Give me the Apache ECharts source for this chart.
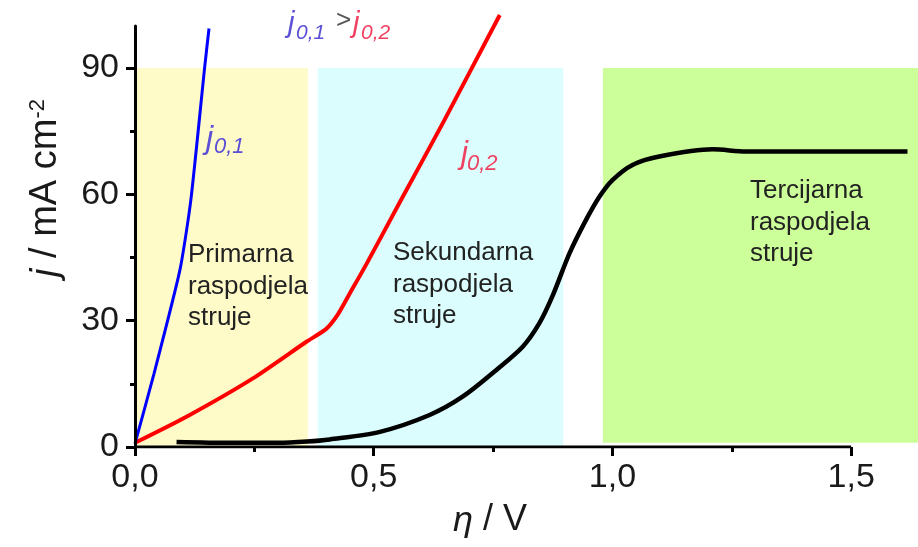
<!DOCTYPE html>
<html>
<head>
<meta charset="utf-8">
<script src="https://cdn.jsdelivr.net/npm/echarts@6/dist/echarts.min.js"></script>
<style>
html, body { margin: 0; padding: 0; background: #fff; }
#chart { width: 918px; height: 547px; }
</style>
</head>
<body>
<div id="chart"></div>
<script>
// krivulje j(eta): [eta / V, j / mA cm-2]
const curveJ01 = [[0, 0.8], [0.04, 17.5], [0.094, 42], [0.117, 58.7], [0.146, 90.3], [0.155, 99.4]];
const curveJ02 = [[0, 1], [0.108, 7.2], [0.247, 16.3], [0.359, 25], [0.40, 28], [0.425, 31.5], [0.45, 36.5], [0.485, 43.5], [0.554, 58], [0.645, 77], [0.764, 102.6]];
const curveLimited = [[0.087, 1.2], [0.2, 1.0], [0.3, 1.0], [0.36, 1.3], [0.408, 1.8], [0.513, 3.6], [0.617, 7.6], [0.687, 12], [0.757, 18.3], [0.812, 23.8], [0.847, 29.4], [0.875, 36], [0.91, 46], [0.945, 54], [0.973, 59.5], [1.0, 63.4], [1.042, 67], [1.098, 69], [1.21, 70.7], [1.28, 70.2], [1.618, 70.2]];

// podrucja raspodjele struje
const regionX = [[0, 0.362], [0.383, 0.897], [0.980, 1.64]];
const regionY = [[0, 90], [0, 90], [1, 90]];
const regionNames = ['Primarna\nraspodjela\nstruje', 'Sekundarna\nraspodjela\nstruje', 'Tercijarna\nraspodjela\nstruje'];
const regionColors = ['#fffbc8', '#dbfdfd', '#ccff99'];

// osi
const xRange = [0, 1.64];
const xAxisSpan = [0, 1.5];
const xTicks = [0, 0.5, 1.0, 1.5];
const xMinorTicks = [0.25, 0.75, 1.25];
const yRange = [0, 100];
const yTicks = [0, 30, 60, 90];
const yMinorTicks = [15, 45, 75];

const FONT = '"Liberation Sans", Arial, sans-serif';
const axisColor = '#000';

function run() {
    const chart = echarts.init(document.getElementById('chart'));

    const areaData = regionX.map((r, i) => [
        { xAxis: r[0], yAxis: regionY[i][0], itemStyle: { color: regionColors[i] } },
        { xAxis: r[1], yAxis: regionY[i][1] }
    ]);

    // tekst: x, y (bazna linija), font
    function txt(text, x, base, size, color, italic, align) {
        return {
            type: 'text',
            x: x,
            y: base - 0.3465 * size,
            z: 50,
            style: {
                text: text,
                fill: color,
                font: (italic ? 'italic ' : '') + size + 'px ' + FONT,
                align: align || 'left',
                verticalAlign: 'middle'
            }
        };
    }

    const regionLabelPos = [[188, 239.5], [393, 237.5], [750, 175.5]];

    const option = {
        animation: false,
        grid: { left: 135, right: 0, top: 26, bottom: 100 },
        xAxis: [
            {
                type: 'value', min: xRange[0], max: xRange[1], interval: 0.5, position: 'bottom',
                axisLine: { show: false },
                splitLine: { show: false },
                axisTick: { customValues: xTicks, length: 9, lineStyle: { color: axisColor, width: 3 } },
                axisLabel: {
                    customValues: xTicks,
                    formatter: v => v.toFixed(1).replace('.', ','),
                    fontSize: 34, fontFamily: FONT, color: '#1a1a1a', margin: 14
                }
            },
            {
                type: 'value', min: xRange[0], max: xRange[1], position: 'bottom',
                axisLine: { show: false },
                splitLine: { show: false },
                axisTick: { customValues: xMinorTicks, length: 5, lineStyle: { color: axisColor, width: 3 } },
                axisLabel: { show: false }
            }
        ],
        yAxis: [
            {
                type: 'value', min: yRange[0], max: yRange[1], interval: 30, z: 10,
                axisLine: { show: true, lineStyle: { color: axisColor, width: 3 } },
                splitLine: { show: false },
                axisTick: { customValues: yTicks, length: 9, lineStyle: { color: axisColor, width: 3 } },
                axisLabel: { customValues: yTicks, fontSize: 34, fontFamily: FONT, color: '#1a1a1a', margin: 16 }
            },
            {
                type: 'value', min: yRange[0], max: yRange[1], position: 'left', z: 10,
                axisLine: { show: false },
                splitLine: { show: false },
                axisTick: { customValues: yMinorTicks, length: 5, lineStyle: { color: axisColor, width: 3 } },
                axisLabel: { show: false }
            }
        ],
        series: [
            {
                // os x od 0 do 1,5 + podrucja
                type: 'line', data: xAxisSpan.map(v => [v, 0]), symbol: 'none', z: 5,
                lineStyle: { color: axisColor, width: 3 },
                markArea: { silent: true, data: areaData }
            },
            {
                type: 'line', data: curveLimited, smooth: 0.3, symbol: 'none', z: 6,
                lineStyle: { color: '#000', width: 4.5 }
            },
            {
                type: 'line', data: curveJ02, smooth: 0.2, symbol: 'none', clip: false, z: 7,
                lineStyle: { color: '#ff0000', width: 4 }
            },
            {
                type: 'line', data: curveJ01, smooth: 0.2, symbol: 'none', clip: false, z: 8,
                lineStyle: { color: '#0000ff', width: 3 }
            }
        ],
        graphic: [
            ...regionNames.map((t, i) => ({
                type: 'text', x: regionLabelPos[i][0], y: regionLabelPos[i][1], z: 50,
                style: { text: t, fill: '#222', font: '26px ' + FONT, lineHeight: 31.5, verticalAlign: 'top' }
            })),
            // j0,1 > j0,2
            txt('j', 288, 34, 29, '#5b4fd6', true),
            txt('0,1', 296, 40, 21, '#5b4fd6', true),
            txt('>', 336, 30, 26, '#555', false),
            txt('j', 353, 34, 29, '#f04060', true),
            txt('0,2', 361, 40, 21, '#f04060', true),
            // j0,1 uz plavu krivulju
            txt('j', 206, 150, 32, '#5b4fd6', true),
            txt('0,1', 214, 154.5, 22, '#5b4fd6', true),
            // j0,2 uz crvenu krivulju
            txt('j', 461, 165.5, 31, '#f04060', true),
            txt('0,2', 467, 171.5, 22, '#f04060', true),
            // naslov osi x
            {
                type: 'text', x: 490, y: 533 - 0.3465 * 36, z: 50,
                style: {
                    text: '{i|η}{n| / V}',
                    align: 'center', verticalAlign: 'middle',
                    rich: {
                        i: { fontSize: 36, fontStyle: 'italic', fontFamily: FONT, fill: '#1a1a1a' },
                        n: { fontSize: 36, fontFamily: FONT, fill: '#1a1a1a' }
                    }
                }
            },
            // naslov osi y
            {
                type: 'text', x: 46, y: 188, rotation: Math.PI / 2, z: 50,
                style: {
                    text: '{i|j}{n| / mA cm}{s|-2}',
                    align: 'center', verticalAlign: 'middle',
                    rich: {
                        i: { fontSize: 38, lineHeight: 38, fontStyle: 'italic', fontFamily: FONT, fill: '#1a1a1a' },
                        n: { fontSize: 38, lineHeight: 38, fontFamily: FONT, fill: '#1a1a1a' },
                        s: { fontSize: 22, lineHeight: 22, verticalAlign: 'top', fontFamily: FONT, fill: '#1a1a1a' }
                    }
                }
            }
        ]
    };
    chart.setOption(option);
}
run();
</script>
</body>
</html>
